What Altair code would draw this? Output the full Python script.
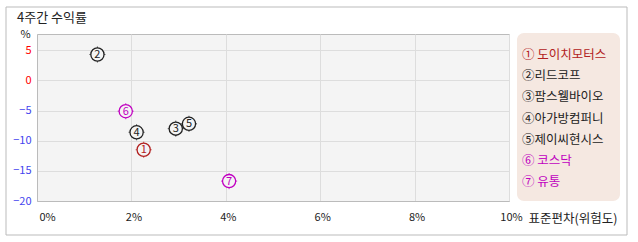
import altair as alt
import pandas as pd

names = ["도이치모터스", "리드코프", "팜스웰바이오", "아가방컴퍼니", "제이씨현시스", "코스닥", "유통"]
marks = ["①", "②", "③", "④", "⑤", "⑥", "⑦"]
digits = ["1", "2", "3", "4", "5", "6", "7"]
risk = [2.26, 1.28, 2.94, 2.11, 3.22, 1.88, 4.07]
ret = [-11.5, 4.3, -8.0, -8.6, -7.2, -5.1, -16.7]
colors = ["#b22020", "#222222", "#222222", "#222222", "#222222", "#c000c0", "#c000c0"]
legend_labels = ["① 도이치모터스", "②리드코프", "③팜스웰바이오", "④아가방컴퍼니", "⑤제이씨현시스", "⑥ 코스닥", "⑦ 유통"]
x_ticks = [0, 2, 4, 6, 8, 10]
y_ticks = [-20, -15, -10, -5, 0, 5]

FONT = "Noto Sans CJK KR"
W, H = 472, 167

df = pd.DataFrame({"name": names, "mark": marks, "digit": digits, "risk": risk,
                   "ret": ret, "color": colors, "legend": legend_labels,
                   "order": list(range(len(names)))})

xscale = alt.Scale(domain=[0, 10], nice=False, zero=False)
yscale = alt.Scale(domain=[-20, 7.7], nice=False, zero=False)

xaxis = alt.Axis(values=x_ticks, labelExpr="datum.value + '%'", ticks=False, tickSize=0,
                 labelPadding=10, labelBaseline="top", labelFont=FONT, labelFontSize=11,
                 labelColor="#222", labelOffset=2, grid=True, labelOverlap=False,
                 labelAlign={"condition": {"test": "datum.value === 0", "value": "left"}, "value": "center"},
                 title="표준편차(위험도)", titleFont=FONT, titleFontSize=12.5, titleFontWeight="normal",
                 titleColor="#222", titleX=491, titleY=17, titleAlign="left", titleBaseline="middle",
                 gridColor="#dddddd", domainColor="#bbbbbb")
yaxis = alt.Axis(values=y_ticks, ticks=False, tickSize=0, labelPadding=6, grid=True,
                 labelFont=FONT, labelFontSize=11, labelOverlap=False,
                 labelColor={"condition": {"test": "datum.value >= 0", "value": "#ff0000"}, "value": "#4444ee"},
                 title="%", titleAngle=0, titleFont=FONT, titleFontSize=11, titleFontWeight="normal",
                 titleColor="#222", titleX=-12, titleY=0, titleAlign="center", titleBaseline="middle",
                 gridColor="#dddddd", domainColor="#bbbbbb")

base = alt.Chart(df)
X = alt.X("risk:Q", scale=xscale, axis=xaxis)
Y = alt.Y("ret:Q", scale=yscale, axis=yaxis)

frame = alt.Chart(pd.DataFrame({"a": [0]})).mark_rect(
    fill=None, filled=False, stroke="#bbbbbb", strokeWidth=1, clip=False
).encode(x=alt.value(-31), x2=alt.value(590), y=alt.value(-27), y2=alt.value(201))

title = alt.Chart(pd.DataFrame({"t": ["4주간 수익률"]})).mark_text(
    font=FONT, fontSize=13, color="#222", align="left", baseline="middle", clip=False
).encode(x=alt.value(-20), y=alt.value(-16), text="t:N")

cross = base.mark_point(shape="M-1,0H1M0,-1V1", size=260, strokeWidth=1, filled=False).encode(
    x=X, y=Y, color=alt.Color("color:N", scale=None))

circ = base.mark_point(shape="circle", size=175, strokeWidth=1.3, fill="#f4f4f4", fillOpacity=1).encode(
    x=X, y=Y, stroke=alt.Color("color:N", scale=None))

digit = base.mark_text(font=FONT, fontSize=11, baseline="middle", align="center", dy=0.5).encode(
    x=X, y=Y, text="digit:N", color=alt.Color("color:N", scale=None))

legbox = alt.Chart(pd.DataFrame({"a": [0]})).mark_rect(
    fill="#f5e8e1", cornerRadius=7, clip=False
).encode(x=alt.value(480), x2=alt.value(583), y=alt.value(-1), y2=alt.value(167))

legtext = base.mark_text(font=FONT, fontSize=12.5, align="left", baseline="middle", clip=False).encode(
    x=alt.value(485),
    y=alt.Y("order:O", scale=alt.Scale(type="point", range=[21, 148], padding=0), axis=None),
    text="legend:N", color=alt.Color("color:N", scale=None))

main = alt.layer(frame, title, cross, circ, digit)
chart = alt.layer(main, alt.layer(legbox, legtext)).resolve_scale(y="independent").properties(
    width=W, height=H,
    autosize=alt.AutoSizeParams(type="none"),
    padding={"left": 37, "top": 34, "right": 129, "bottom": 41},
    background="white",
).configure_view(stroke="#bbbbbb", fill="#f4f4f4")

chart.save("out.html", embed_options={"renderer": "svg", "actions": False})
